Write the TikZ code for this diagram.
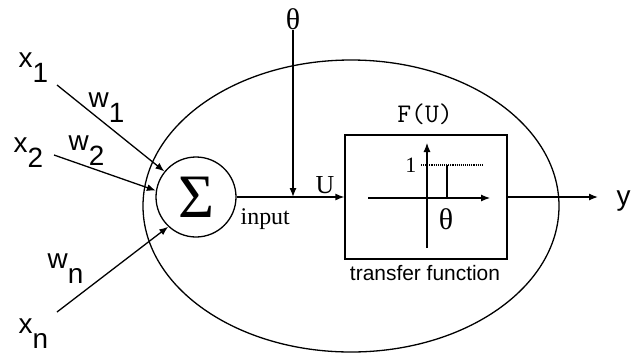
\documentclass[tikz,border=0pt]{standalone}
\usepackage{fontspec}
\setmainfont{Liberation Serif}
\newfontfamily\lsans{Liberation Sans}
\usetikzlibrary{arrows.meta}
\newcommand{\lowsub}[1]{\raisebox{-0.55em}{#1}}
\begin{document}
\begin{tikzpicture}[x=1bp,y=-1bp, line width=1.3bp,
  arr/.style={-{Latex[length=9bp,width=7bp]}},
  sanslab/.style={font=\lsans\fontsize{28}{30}\selectfont, inner sep=0, anchor=base west},
  serlab/.style={font=\fontsize{26}{28}\selectfont, inner sep=0},
  thlab/.style={font=\fontsize{30}{32}\selectfont, inner sep=0}]
\useasboundingbox (0,0) rectangle (631,358);
% neuron body
\draw (351,206) ellipse [x radius=208, y radius=146];
\node[circle, draw, minimum size=80bp, inner sep=0] (sum) at (196,197) {\fontsize{62}{64}\selectfont Σ};
\node[draw, minimum width=162bp, minimum height=124bp, inner sep=0] (tf) at (426,197) {};
% threshold
\node[thlab] (theta) at (293,19) {θ};
\draw[arr] (theta) -- (theta |- sum);
% sum to transfer
\draw[arr] (sum) -- (tf);
\node[serlab, anchor=base west] (U) at (315,193) {U};
\node[serlab, anchor=base west, font=\fontsize{24}{26}\selectfont] (input) at (240,224) {input};
\node[font=\ttfamily\fontsize{27}{29}\selectfont, anchor=base, inner sep=0] (FU) at (425,122) {F(U)};
\node[font=\lsans\fontsize{21}{24}\selectfont, anchor=base, inner sep=0] (tfl) at (425,280) {transfer function};
% step plot
\draw[arr, line width=1.1bp] (427,248) -- (427,143);
\draw[arr, line width=1.1bp] (368,198) -- (490,198);
\draw[densely dotted, line width=1.1bp] (421,165) -- (482,165);
\draw[line width=1.1bp] (447,165) -- (447,198);
\node[inner sep=0, anchor=base east, font=\fontsize{22}{24}\selectfont] (one) at (417,172) {1};
\node[thlab] (th2) at (446,219) {θ};
% output
\coordinate (yout) at (598,197);
\draw[arr] (tf) -- (yout);
\node[sanslab] (y) at (616,205) {y};
% inputs
\node[sanslab] (x1) at (18,67) {x\lowsub{1}};
\node[sanslab] (x2) at (13,152) {x\lowsub{2}};
\node[sanslab] (xn) at (18,333) {x\lowsub{n}};
\node[sanslab] (w1) at (88,107) {w\lowsub{1}};
\node[sanslab] (w2) at (68,150) {w\lowsub{2}};
\node[sanslab] (wn) at (47,268) {w\lowsub{n}};
\coordinate (s1) at (57,85);
\coordinate (s2) at (54,155);
\coordinate (sn) at (57,312);
\draw[arr] (s1) -- (sum.141);
\draw[arr] (s2) -- (sum.171);
\draw[arr] (sn) -- (sum.227);
\end{tikzpicture}
\end{document}
